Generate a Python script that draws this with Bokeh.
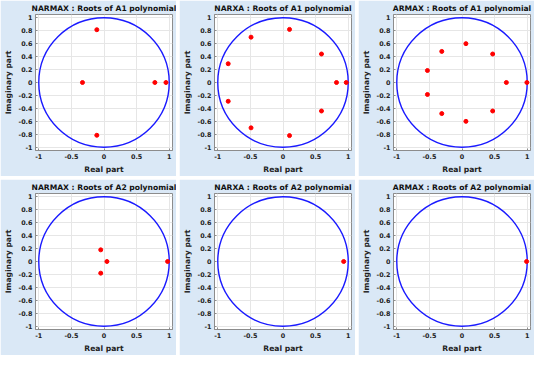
from bokeh.plotting import figure
from bokeh.layouts import gridplot
from bokeh.models import FixedTicker
from bokeh.embed import file_html
from bokeh.resources import INLINE

# ---- data -------------------------------------------------------------
titles = [
    "NARMAX : Roots of A1 polynomial",
    "NARXA : Roots of A1 polynomial",
    "ARMAX : Roots of A1 polynomial",
    "NARMAX : Roots of A2 polynomial",
    "NARXA : Roots of A2 polynomial",
    "ARMAX : Roots of A2 polynomial",
]

narmax_a1_re = [-0.11, -0.11, -0.33, 0.78, 0.95]
narmax_a1_im = [0.815, -0.815, 0.0, 0.0, 0.0]

narxa_a1_re = [0.10, 0.10, -0.49, -0.49, -0.84, -0.84, 0.59, 0.59, 0.82, 0.97]
narxa_a1_im = [0.82, -0.82, 0.70, -0.70, 0.29, -0.29, 0.44, -0.44, 0.0, 0.0]

armax_a1_re = [0.06, 0.06, -0.31, -0.31, 0.47, 0.47, -0.53, -0.53, 0.68, 0.995]
armax_a1_im = [0.60, -0.60, 0.48, -0.48, 0.44, -0.44, 0.185, -0.185, 0.0, 0.0]

narmax_a2_re = [-0.05, -0.05, 0.045, 0.975]
narmax_a2_im = [0.18, -0.18, 0.0, 0.0]

narxa_a2_re = [0.93]
narxa_a2_im = [0.0]

armax_a2_re = [0.99]
armax_a2_im = [0.0]

roots_re = [narmax_a1_re, narxa_a1_re, armax_a1_re, narmax_a2_re, narxa_a2_re, armax_a2_re]
roots_im = [narmax_a1_im, narxa_a1_im, armax_a1_im, narmax_a2_im, narxa_a2_im, armax_a2_im]

x_ticks = [-1, -0.5, 0, 0.5, 1]
y_ticks = [-1, -0.8, -0.6, -0.4, -0.2, 0, 0.2, 0.4, 0.6, 0.8, 1]
x_tick_labels = {-1: "-1", -0.5: "-0.5", 0: "0", 0.5: "0.5", 1: "1"}
y_tick_labels = {-1: "-1", -0.8: "-0.8", -0.6: "-0.6", -0.4: "-0.4", -0.2: "-0.2", 0: "0",
                 0.2: "0.2", 0.4: "0.4", 0.6: "0.6", 0.8: "0.8", 1: "1"}

circle_x = [0.0]
circle_y = [0.0]
circle_diam = [2.0]

# ---- style ------------------------------------------------------------
FONT = "DejaVu Sans"
BG = "#dae8f6"
PW, PH = 176, 176


def make_panel(title, xs, ys):
    p = figure(width=PW, height=PH, output_backend="svg", toolbar_location=None,
               x_range=(-1.05, 1.05), y_range=(-1.05, 1.05),
               min_border_left=27, min_border_right=4, min_border_top=0,
               min_border_bottom=18)
    p.border_fill_color = BG
    p.background_fill_color = "white"
    p.outline_line_color = "#8c8c8c"
    p.outline_line_width = 1

    p.title.text = title
    p.title.align = "center"
    p.title.text_font = FONT
    p.title.text_font_size = "7.6px"
    p.title.text_font_style = "bold"
    p.title.text_color = "#111111"
    p.title.standoff = 3
    p.title.offset = 0

    p.ellipse(x=circle_x, y=circle_y, width=circle_diam, height=circle_diam,
              fill_color=None, line_color="#1a1aff", line_width=1.4)
    p.scatter(x=xs, y=ys, size=4, marker="circle", fill_color="#ff0000",
              line_color="#ff0000")

    p.xaxis.ticker = FixedTicker(ticks=x_ticks)
    p.yaxis.ticker = FixedTicker(ticks=y_ticks)
    p.xaxis.major_label_overrides = x_tick_labels
    p.yaxis.major_label_overrides = y_tick_labels
    p.xaxis.axis_label = "Real part"
    p.yaxis.axis_label = "Imaginary part"
    for ax in (p.xaxis, p.yaxis):
        ax.axis_label_text_font = FONT
        ax.axis_label_text_font_size = "7.6px"
        ax.axis_label_text_font_style = "bold"
        ax.axis_label_text_color = "#222222"
        ax.major_label_text_font = FONT
        ax.major_label_text_font_size = "6.4px"
        ax.major_label_text_font_style = "bold"
        ax.major_label_text_color = "#222222"
        ax.major_label_standoff = 3
        ax.axis_label_standoff = 3
        ax.major_tick_in = 2
        ax.major_tick_out = 0
        ax.minor_tick_in = 0
        ax.minor_tick_out = 0
        ax.axis_line_color = "#8c8c8c"
        ax.major_tick_line_color = "#8c8c8c"
    p.grid.grid_line_color = "#e6e6e6"
    p.grid.grid_line_width = 1
    return p


panels = [make_panel(t, xs, ys) for t, xs, ys in zip(titles, roots_re, roots_im)]

grid = gridplot(panels, ncols=3, toolbar_location=None)
grid.spacing = 3

open("out.html", "w").write(file_html(grid, INLINE))
